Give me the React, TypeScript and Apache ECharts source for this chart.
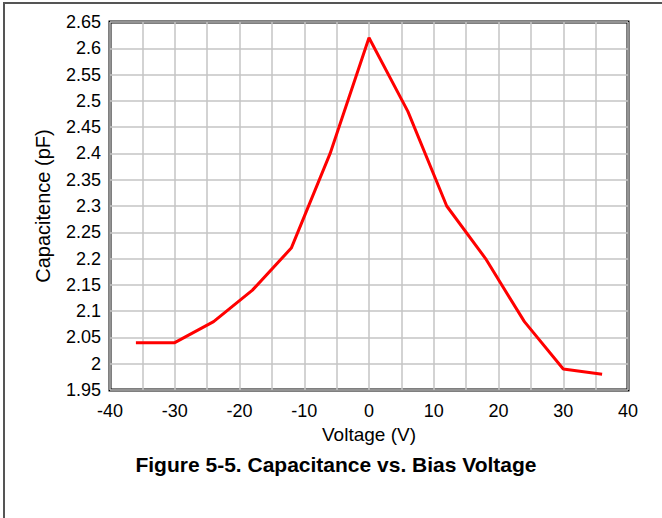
import React, { useEffect, useRef } from "react";
import * as echarts from "echarts";

const voltage = [-36, -30, -24, -18, -12, -6, 0, 6, 12, 18, 24, 30, 36];
const capacitance = [2.04, 2.04, 2.08, 2.14, 2.22, 2.4, 2.62, 2.48, 2.3, 2.2, 2.08, 1.99, 1.98];

const xTitle = "Voltage (V)";
const yTitle = "Capacitence (pF)";
const figTitle = "Figure 5-5. Capacitance vs. Bias Voltage";

const FONT = "'Liberation Sans', Arial, sans-serif";

export default function App() {
  const ref = useRef<HTMLDivElement>(null);
  useEffect(() => {
    document.body.style.margin = "0";
    const chart = echarts.init(ref.current!, null, { renderer: "svg" });
    chart.setOption({
      animation: false,
      backgroundColor: "#ffffff",
      textStyle: { fontFamily: FONT },
      grid: {
        left: 110,
        top: 22,
        width: 518,
        height: 368,
        show: true,
        borderColor: "#000000",
        borderWidth: 3,
        backgroundColor: "transparent",
      },
      xAxis: {
        type: "value",
        min: -40,
        max: 40,
        interval: 5,
        name: xTitle,
        nameLocation: "middle",
        nameGap: 33,
        nameTextStyle: { fontSize: 19, color: "#000", fontFamily: FONT },
        axisLine: { show: false },
        axisTick: { show: false },
        axisLabel: {
          fontSize: 18,
          color: "#000",
          margin: 12,
          fontFamily: FONT,
          formatter: (v: number) => (Math.round(v) % 10 === 0 ? String(Math.round(v)) : ""),
        },
        splitLine: { show: true, lineStyle: { color: "#c4c4c4", width: 1.5 } },
      },
      yAxis: {
        type: "value",
        min: 1.95,
        max: 2.65,
        interval: 0.05,
        name: yTitle,
        nameLocation: "middle",
        nameGap: 57,
        nameTextStyle: { fontSize: 20, color: "#000", fontFamily: FONT },
        axisLine: { show: false },
        axisTick: { show: false },
        axisLabel: {
          fontSize: 18,
          color: "#000",
          margin: 9,
          fontFamily: FONT,
          formatter: (v: number) => String(parseFloat(v.toFixed(2))),
        },
        splitLine: { show: true, lineStyle: { color: "#c4c4c4", width: 1.5 } },
      },
      series: [
        {
          type: "line",
          data: voltage.map((v, i) => [v, capacitance[i]]),
          showSymbol: false,
          symbol: "none",
          lineStyle: { color: "#ff0000", width: 3 },
          z: 5,
        },
      ],
      graphic: [
        {
          type: "line",
          shape: { x1: 4, y1: 3, x2: 4, y2: 518 },
          style: { stroke: "#555555", lineWidth: 2 },
        },
        {
          type: "line",
          shape: { x1: 3, y1: 3, x2: 662, y2: 3 },
          style: { stroke: "#555555", lineWidth: 2 },
        },
        {
          type: "text",
          x: 336,
          y: 464,
          style: {
            text: figTitle,
            fontSize: 21,
            fontWeight: "bold",
            fontFamily: FONT,
            fill: "#000",
            align: "center",
            verticalAlign: "middle",
          },
        },
      ],
    });
    return () => chart.dispose();
  }, []);
  return <div ref={ref} style={{ width: 662, height: 518 }} />;
}
